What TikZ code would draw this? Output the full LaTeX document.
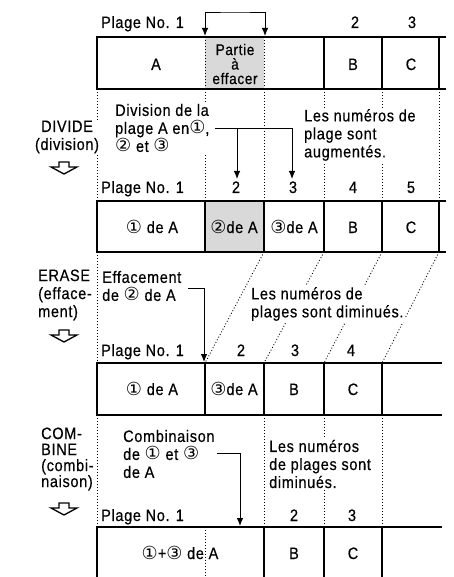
\documentclass[tikz,border=0pt]{standalone}
\usepackage{fontspec}
\setmainfont{Liberation Sans}[FakeStretch=0.88,LetterSpace=4,FakeBold=0.4]
\newfontfamily\circfont{DejaVu Sans}
\usetikzlibrary{arrows.meta}
\definecolor{EraseGray}{HTML}{D9D9D9}
\newcommand{\cn}[1]{{\circfont\fontsize{18}{18}\selectfont #1}}

\begin{document}
\begin{tikzpicture}[x=1pt,y=-1pt,
    font=\fontsize{16.5}{18}\selectfont,
    bar/.style={line width=1.4pt},
    guide/.style={line width=0.9pt,dash pattern=on 0.9pt off 2.1pt},
    conn/.style={-{Latex[length=8pt,width=6.5pt]},line width=0.9pt},
    conn2/.style={{Latex[length=8pt,width=6.5pt]}-{Latex[length=8pt,width=6.5pt]},line width=0.9pt},
    num/.style={anchor=base,inner sep=0pt},
    note/.style={align=left,anchor=west,inner sep=1pt,fill=white},
    side/.style={inner sep=1pt,fill=white},
    hollowdown/.pic={\draw[line width=1.3pt] (-5,0) -- (5,0) -- (5,5) -- (13,5) -- (0,12) -- (-13,5) -- (-5,5) -- cycle;}]
  \useasboundingbox (0,0) rectangle (454,577);

  % track bars
  \fill[EraseGray] (205,37) rectangle (264,89);
  \draw[bar] (446,37) -- (97,37) -- (97,89) -- (446,89);
  \foreach \x in {324,382,439} \draw[bar] (\x,37) -- (\x,89);
  \foreach \x in {205,264} \draw[guide] (\x,37) -- (\x,89);

  \fill[EraseGray] (205,201) rectangle (264,252);
  \draw[bar] (446,201) -- (97,201) -- (97,252) -- (446,252);
  \foreach \x in {205,264,324,382,439} \draw[bar] (\x,201) -- (\x,252);

  \draw[bar] (442,363) -- (97,363) -- (97,415) -- (442,415);
  \foreach \x in {205,264,324,382} \draw[bar] (\x,363) -- (\x,415);

  \draw[bar] (442,527) -- (97,527) -- (97,578);
  \foreach \x in {264,324,382} \draw[bar] (\x,527) -- (\x,578);
  \draw[guide] (205,527) -- (205,578);

  % dotted guides between bars
  \foreach \x in {97,205,264,324,382,439} \draw[guide] (\x,89) -- (\x,201);
  \draw[guide] (97,252) -- (97,363);
  \foreach \xa/\xb in {264/205,324/264,382/324,439/382} \draw[guide] (\xa,252) -- (\xb,363);
  \foreach \x in {97,264,324,382} \draw[guide] (\x,415) -- (\x,527);

  % track numbers
  \node[num,anchor=base west] (no1a) at (101,28) {Plage No. 1};
  \node[num] (no1b) at (355,28) {2};
  \node[num] (no1c) at (412,28) {3};

  \node[num,anchor=base west] (no2a) at (101,193) {Plage No. 1};
  \node[num] (no2b) at (236,193) {2};
  \node[num] (no2c) at (293,193) {3};
  \node[num] (no2d) at (353,193) {4};
  \node[num] (no2e) at (411,193) {5};

  \node[num,anchor=base west] (no3a) at (101,356) {Plage No. 1};
  \node[num] (no3b) at (241,356) {2};
  \node[num] (no3c) at (295,356) {3};
  \node[num] (no3d) at (351,356) {4};

  \node[num,anchor=base west] (no4a) at (101,521) {Plage No. 1};
  \node[num] (no4b) at (294,521) {2};
  \node[num] (no4c) at (352,521) {3};

  % cell contents
  \node[num] (c1A) at (156,70) {A};
  \node[align=center,inner sep=0pt,font=\fontsize{15.5}{14.5}\selectfont] (c1cut) at (235,64) {Partie\\à\\effacer};
  \node[num] (c1B) at (353,70) {B};
  \node[num] (c1C) at (411,70) {C};

  \node[num] (c2a) at (152,233) {\cn{①} de A};
  \node[num] (c2b) at (234,233) {\cn{②}de A};
  \node[num] (c2c) at (294,233) {\cn{③}de A};
  \node[num] (c2B) at (353,233) {B};
  \node[num] (c2C) at (411,233) {C};

  \node[num] (c3a) at (152,395) {\cn{①} de A};
  \node[num] (c3c) at (234,395) {\cn{③}de A};
  \node[num] (c3B) at (294,395) {B};
  \node[num] (c3C) at (353,395) {C};

  \node[num] (c4ac) at (180,559) {\cn{①}+\cn{③} de A};
  \node[num] (c4B) at (294,559) {B};
  \node[num] (c4C) at (353,559) {C};

  % notes
  \node[note] (divNote) at (114,128) {Division de la\\plage A en\cn{①},\\\cn{②} et \cn{③}};
  \node[note] (divMore) at (303,135) {Les numéros de\\plage sont\\augmentés.};
  \node[note] (eraNote) at (101,286) {Effacement\\de \cn{②} de A};
  \node[note] (eraLess) at (250,304) {Les numéros de\\plages sont diminués.};
  \node[note] (comNote) at (122,454) {Combinaison\\de \cn{①} et \cn{③}\\de A};
  \node[note] (comLess) at (268,464) {Les numéros\\de plages sont\\diminués.};

  % operations
  \node[side,align=center] (opDiv) at (67,137) {DIVIDE\\(division)};
  \pic at (64,162) {hollowdown};
  \node[side,align=left,anchor=west] (opEra) at (37,295) {ERASE\\(efface-\\ment)};
  \pic at (64,330) {hollowdown};
  \node[side,align=left,anchor=west,font=\fontsize{16.5}{16}\selectfont] (opCom) at (40,459) {COM-\\BINE\\(combi-\\naison)};
  \pic at (64,503) {hollowdown};

  % connectors
  \coordinate (cutL) at (205,36);
  \coordinate (cutR) at (265,36);
  \draw[conn2] (cutL) |- (235,12) -| (cutR);

  \coordinate (divFrom) at (215,128);
  \coordinate (divTo2) at (237,179);
  \coordinate (divTo3) at (292,179);
  \draw[line width=0.9pt] (divFrom) -- (divFrom -| divTo3);
  \draw[conn] (divFrom -| divTo2) -- (divTo2);
  \draw[conn] (divFrom -| divTo3) -- (divTo3);

  \coordinate (eraFrom) at (188,288);
  \coordinate (eraTo) at (204,362);
  \draw[conn] (eraFrom) -| (eraTo);

  \coordinate (comFrom) at (217,453);
  \coordinate (comTo) at (240,526);
  \draw[conn] (comFrom) -| (comTo);
\end{tikzpicture}
\end{document}
